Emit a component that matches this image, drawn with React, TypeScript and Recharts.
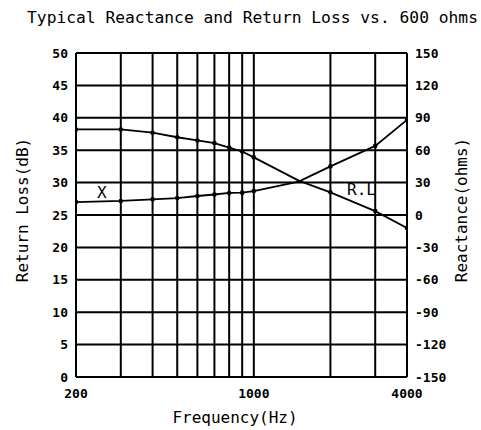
import React from 'react';
import { LineChart, Line, XAxis, YAxis, CartesianGrid, Label } from 'recharts';

const freqs = [200, 300, 400, 500, 600, 700, 800, 900, 1000, 1500, 2000, 3000, 4000];
const returnLoss = [38.2, 38.2, 37.7, 37.0, 36.5, 36.1, 35.4, 34.8, 33.9, 30.3, 28.5, 25.6, 23.0];
const reactance = [12, 13, 14.5, 15.7, 17.6, 19, 20.4, 20.7, 22.2, 31, 45, 64, 88];
const gridFreqs = [200, 300, 400, 500, 600, 700, 800, 900, 1000, 2000, 3000, 4000];
const labelledFreqs = [200, 1000, 4000];
const rlTicks = [0, 5, 10, 15, 20, 25, 30, 35, 40, 45, 50];
const xTicks = [-150, -120, -90, -60, -30, 0, 30, 60, 90, 120, 150];
const dotFreqs = [200, 300, 400, 500, 600, 700, 800, 900, 1000, 2000, 3000, 4000];

const data = freqs.map((f, i) => ({ f, rl: returnLoss[i], x: reactance[i] }));

const FONT = '"DejaVu Sans Mono", monospace';
const tick = { fill: '#000', fontSize: 13, fontFamily: FONT, fontWeight: 'bold' as const };

const SmallDot = (props: any) => {
  const { cx, cy, payload, index } = props;
  if (!dotFreqs.includes(payload.f)) return <g key={index} />;
  return <circle key={index} cx={cx} cy={cy} r={2.3} fill="#000" stroke="none" />;
};

const App: React.FC = () => {
  return (
    <div style={{ position: 'relative', width: 481, height: 430, fontFamily: FONT }}>
      <style>{'body{margin:0;background:#fff}'}</style>
      <div style={{ position: 'absolute', left: 0, top: 8, width: 505, textAlign: 'center', fontSize: 16.3, lineHeight: '20px' }}>
        Typical Reactance and Return Loss vs. 600 ohms
      </div>
      <LineChart width={481} height={430} data={data} margin={{ top: 53, right: 0, bottom: 0, left: 0 }}>
        <CartesianGrid stroke="#000" strokeWidth={2} horizontalValues={rlTicks} verticalValues={gridFreqs} yAxisId="rl" />
        <XAxis
          dataKey="f"
          type="number"
          scale="log"
          domain={[200, 4000]}
          ticks={gridFreqs}
          interval={0}
          tickFormatter={(v: number) => (labelledFreqs.includes(v) ? String(v) : '')}
          tick={tick}
          tickLine={false}
          axisLine={{ stroke: '#000', strokeWidth: 2 }}
          tickMargin={6}
          height={53}
          allowDataOverflow
        >
          <Label
            content={() => (
              <text x={235} y={423} textAnchor="middle" fontSize={16} fontFamily={FONT} fill="#000">
                Frequency(Hz)
              </text>
            )}
          />
        </XAxis>
        <YAxis
          yAxisId="rl"
          domain={[0, 50]}
          ticks={rlTicks}
          interval={0}
          tick={tick}
          tickLine={false}
          axisLine={{ stroke: '#000', strokeWidth: 2 }}
          width={76}
        >
          <Label
            content={() => (
              <text x={22} y={210} transform="rotate(-90 22 210)" textAnchor="middle" dominantBaseline="central" fontSize={16} fontFamily={FONT} fill="#000">
                Return Loss(dB)
              </text>
            )}
          />
        </YAxis>
        <YAxis
          yAxisId="x"
          orientation="right"
          domain={[-150, 150]}
          ticks={xTicks}
          interval={0}
          tick={tick}
          tickLine={false}
          axisLine={{ stroke: '#000', strokeWidth: 2 }}
          width={74}
        >
          <Label
            content={() => (
              <text x={461} y={210} transform="rotate(-90 461 210)" textAnchor="middle" dominantBaseline="central" fontSize={16} fontFamily={FONT} fill="#000">
                Reactance(ohms)
              </text>
            )}
          />
        </YAxis>
        <Line
          yAxisId="rl"
          dataKey="rl"
          type="linear"
          stroke="#000"
          strokeWidth={1.8}
          dot={SmallDot}
          activeDot={false}
          isAnimationActive={false}
        />
        <Line
          yAxisId="x"
          dataKey="x"
          type="linear"
          stroke="#000"
          strokeWidth={1.8}
          dot={SmallDot}
          activeDot={false}
          isAnimationActive={false}
        />
      </LineChart>
      <div style={{ position: 'absolute', left: 97, top: 183, fontSize: 16, lineHeight: '20px' }}>X</div>
      <div style={{ position: 'absolute', left: 347, top: 180, fontSize: 16, lineHeight: '20px' }}>R.L</div>
    </div>
  );
};

export default App;
